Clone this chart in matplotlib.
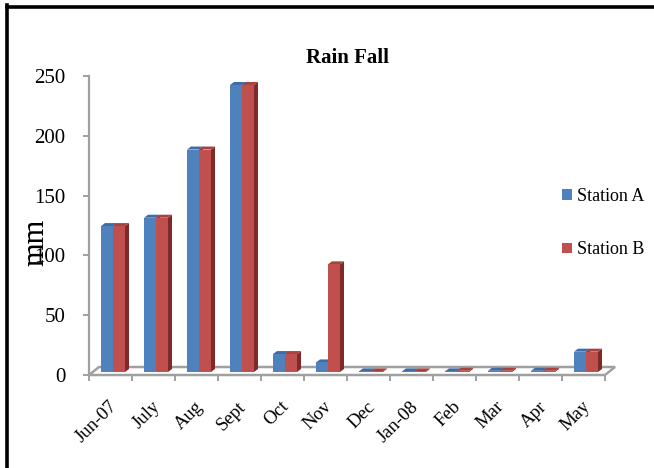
import matplotlib
matplotlib.use("Agg")
import matplotlib.pyplot as plt
from matplotlib.patches import Polygon, Patch
from matplotlib.lines import Line2D
from matplotlib.transforms import ScaledTranslation

plt.rcParams['font.family'] = ['Liberation Serif', 'DejaVu Serif']

months = ['Jun-07', 'July', 'Aug', 'Sept', 'Oct', 'Nov', 'Dec', 'Jan-08',
          'Feb', 'Mar', 'Apr', 'May']
station_a = [122, 129, 186, 240, 15, 8, 0.5, 0.5, 0.5, 1, 1, 17]
station_b = [122, 129, 186, 240, 15, 90, 0.5, 0.5, 1, 1, 1, 17]
series_names = ['Station A', 'Station B']
y_ticks = [0, 50, 100, 150, 200, 250]

W, H, DPI = 654, 468, 100
fig = plt.figure(figsize=(W / DPI, H / DPI), dpi=DPI)
fig.patch.set_facecolor('white')

ax = fig.add_axes([89 / W, (H - 375) / H, (605 - 89) / W, (375 - 76) / H])
ax.set_xlim(0, 12)
ax.set_ylim(0, 250)
ax.patch.set_alpha(0)

px_x = 12 / (605 - 89)      # data units per pixel, x
px_y = 250 / (375 - 76)     # data units per pixel, y

grey = '#A0A0A0'
front_cols = ['#4F81BD', '#C0504D']
top_cols = ['#3E6CA6', '#A9423F']
side_cols = ['#2F5689', '#7E2B28']

# floor slab
fdx, fdy = 10 * px_x, 8 * px_y
floor = Polygon([(0, 0), (12, 0), (12 + fdx, fdy), (fdx, fdy)], closed=True,
                facecolor='white', edgecolor=grey, linewidth=1.8, clip_on=False, zorder=1)
ax.add_patch(floor)

# bars sit slightly behind the front edge of the floor
bar_trans = ax.transData + ScaledTranslation(0, 3 / DPI, fig.dpi_scale_trans)
bw = 12 * px_x
ddx, ddy = 4 * px_x, 3 * px_y
start = 12 * px_x

for i in range(len(months)):
    for s, vals in enumerate([station_a, station_b]):
        v = vals[i]
        x0 = i + start + s * bw
        x1 = x0 + bw
        z = 3 + i * 0.01 + s * 0.003
        side = Polygon([(x1, 0), (x1 + ddx, ddy), (x1 + ddx, v + ddy), (x1, v)],
                       closed=True, facecolor=side_cols[s], edgecolor='none',
                       transform=bar_trans, clip_on=False, zorder=z)
        top = Polygon([(x0, v), (x1, v), (x1 + ddx, v + ddy), (x0 + ddx, v + ddy)],
                      closed=True, facecolor=top_cols[s], edgecolor='none',
                      transform=bar_trans, clip_on=False, zorder=z + 0.001)
        ax.add_patch(side)
        ax.add_patch(top)
        bars = ax.bar([x0], [v], width=bw, align='edge', color=front_cols[s],
                      linewidth=0, zorder=z + 0.002)
        for b in bars:
            b.set_transform(bar_trans)
            b.set_clip_on(False)

# axes styling
for sp in ['top', 'right', 'bottom']:
    ax.spines[sp].set_visible(False)
ax.spines['left'].set_color(grey)
ax.spines['left'].set_linewidth(1.6)

ax.set_yticks(y_ticks)
ax.tick_params(axis='y', length=4, width=1.4, color=grey, pad=13, labelsize=15)

ax.set_xticks(range(13))
ax.set_xticks([i + 0.5 for i in range(12)], minor=True)
ax.set_xticklabels([], minor=False)
ax.set_xticklabels(months, minor=True, rotation=45, ha='right',
                   rotation_mode='anchor')
ax.tick_params(axis='x', which='major', length=4, width=1.4, color=grey)
ax.tick_params(axis='x', which='minor', length=0, pad=21, labelsize=13.5)
label_shift = ScaledTranslation(4 / DPI, 0, fig.dpi_scale_trans)
for lab in ax.get_xticklabels(minor=True):
    lab.set_va('center')
    lab.set_transform(lab.get_transform() + label_shift)

fig.text(347 / W, 1 - 58 / H, 'Rain Fall', fontsize=15, fontweight='bold',
         ha='center', va='center')
fig.text(36 / W, 1 - 242 / H, 'mm', fontsize=22, rotation=90,
         ha='center', va='center')

handles = [Patch(facecolor=c, edgecolor='none') for c in front_cols]
fig.legend(handles, series_names, loc='upper left',
           bbox_to_anchor=(555 / W, 1 - 181 / H), frameon=False, fontsize=13,
           handlelength=0.55, handleheight=0.55, handletextpad=0.25,
           labelspacing=2.0, borderaxespad=0)

# page border
fig.add_artist(Line2D([6.5 / W, 6.5 / W], [0, 1 - 5 / H], transform=fig.transFigure,
                      color='black', linewidth=2.6, solid_capstyle='projecting'))
fig.add_artist(Line2D([6.5 / W, 1], [1 - 6.5 / H, 1 - 6.5 / H], transform=fig.transFigure,
                      color='black', linewidth=2.6, solid_capstyle='projecting'))

fig.savefig('out.png', dpi=DPI)
